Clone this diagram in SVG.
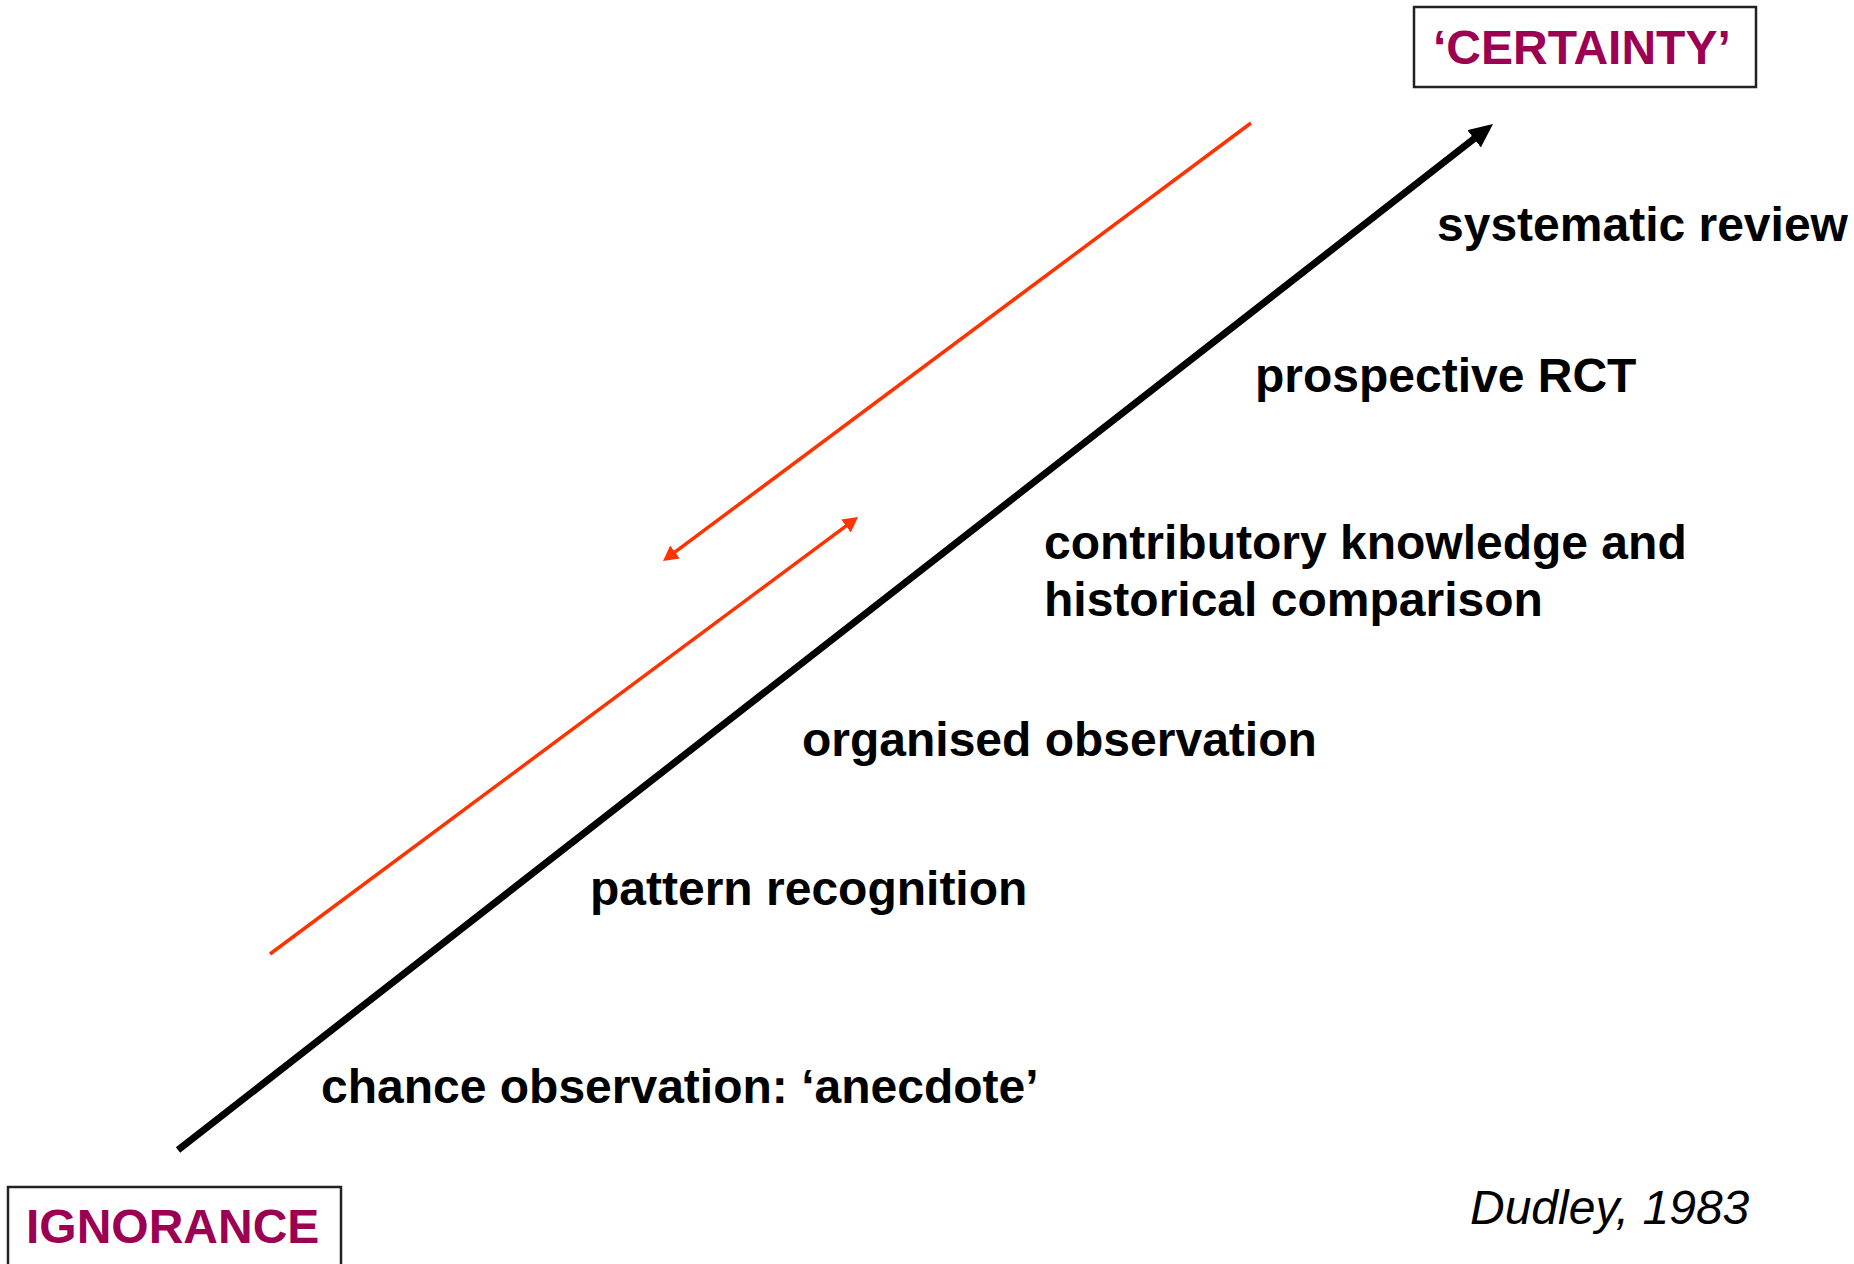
<svg xmlns="http://www.w3.org/2000/svg" width="1854" height="1264" viewBox="0 0 1854 1264">
<style>
.lbl{font-family:"Liberation Sans",Arial,sans-serif;font-size:48px;font-weight:bold;fill:#000}
.key{font-family:"Liberation Sans",Arial,sans-serif;font-size:48px;font-weight:bold;fill:#9C0052}
.box{fill:#fff;stroke:#222;stroke-width:2.5}
.cite{font-family:"Liberation Sans",Arial,sans-serif;font-size:48px;font-style:italic;fill:#000}
</style>
<defs>
<marker id="blackHead" markerUnits="userSpaceOnUse" markerWidth="26" markerHeight="24" refX="6" refY="11" orient="auto">
<path d="M0,0 L24,11 L0,22 z" fill="#000"/>
</marker>
<marker id="redHead" markerUnits="userSpaceOnUse" markerWidth="17" markerHeight="18" refX="4" refY="8" orient="auto">
<path d="M0,0 L15,8 L0,16 z" fill="#FF3300"/>
</marker>
</defs>
<rect width="1854" height="1264" fill="#fff"/>
<g id="connectors">
<line x1="178" y1="1150" x2="1478.8" y2="135.1" stroke="#000" stroke-width="7" marker-end="url(#blackHead)"/>
<line x1="1251" y1="123" x2="671.8" y2="554.4" stroke="#FF3300" stroke-width="3.5" marker-end="url(#redHead)"/>
<line x1="270" y1="954" x2="849.2" y2="523.6" stroke="#FF3300" stroke-width="3.5" marker-end="url(#redHead)"/>
</g>
<g id="certainty">
<rect class="box" x="1414" y="7" width="342" height="80"/>
<text class="key" x="1433" y="64">‘CERTAINTY’</text>
</g>
<g id="ignorance">
<rect class="box" x="8" y="1187" width="333" height="90"/>
<text class="key" x="26" y="1243">IGNORANCE</text>
</g>
<g id="systematic-review"><text class="lbl" x="1437" y="241">systematic review</text></g>
<g id="prospective-rct"><text class="lbl" x="1255" y="392">prospective RCT</text></g>
<g id="contributory"><text class="lbl" x="1044" y="559">contributory knowledge and</text><text class="lbl" x="1044" y="616">historical comparison</text></g>
<g id="organised-observation"><text class="lbl" x="802" y="756">organised observation</text></g>
<g id="pattern-recognition"><text class="lbl" x="590" y="905">pattern recognition</text></g>
<g id="chance-observation"><text class="lbl" x="321" y="1103">chance observation: ‘anecdote’</text></g>
<g id="citation"><text class="cite" x="1470" y="1224">Dudley, 1983</text></g>
</svg>
